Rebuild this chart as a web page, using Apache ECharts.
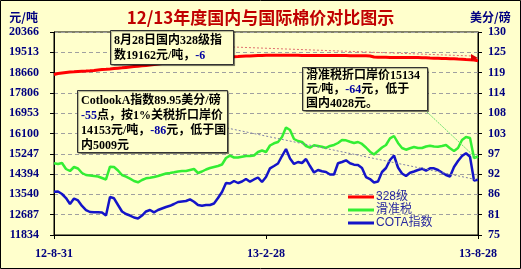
<!DOCTYPE html>
<html>
<head>
<meta charset="utf-8">
<script src="https://cdn.jsdelivr.net/npm/echarts@6/dist/echarts.min.js"></script>
<style>
html,body{margin:0;padding:0;background:#FFFFCC;}
#c{width:521px;height:269px;}
</style>
</head>
<body>
<div id="c"></div>
<script>
// ---- data ----
const title = '12/13年度国内与国际棉价对比图示';
const seriesNames = ['328级', '滑准税', 'COTA指数'];
const xTickLabels = ['12-8-31', '13-2-28', '13-8-28'];
const xTickIndex = [0, 53, 106];
const leftTickMin = 11834, leftTickMax = 20366, leftTickStep = 853.2;   // 元/吨
const rightTickMin = 75, rightTickMax = 130, rightTickStep = 5.5;        // 美分/磅

// 328级 (元/吨)
const grade328 = [18580,18622,18643,18664,18685,18693,18706,18718,18727,18739,
 18752,18769,18786,18798,18811,18828,18845,18861,18878,18895,
 18912,18929,18945,18962,18979,19000,19021,19042,19063,19084,
 19105,19126,19147,19168,19189,19210,19231,19248,19265,19282,
 19294,19303,19311,19315,19315,19328,19336,19345,19353,19357,
 19370,19378,19382,19386,19386,19390,19390,19390,19390,19386,
 19386,19386,19382,19382,19382,19382,19378,19378,19378,19378,
 19374,19374,19374,19374,19370,19370,19370,19366,19366,19357,
 19315,19307,19303,19303,19298,19298,19298,19294,19294,19290,
 19290,19290,19286,19282,19273,19265,19261,19256,19252,19244,
 19240,19231,19223,19210,19198,19185,19162];
// 滑准税折口岸价 (元/吨)
const slidingTax = [14848,14818,14860,14608,14524,14692,14629,14440,14356,14335,
 14314,14293,14230,14167,14705,14692,14545,14356,14284,14200,
 14104,14049,14146,14217,14242,14272,14314,14368,14419,14440,
 14469,14503,14524,14524,14566,14608,14440,14503,14587,14650,
 14692,14734,14797,15070,15167,15091,15091,15125,15154,15154,
 15175,15322,15385,15322,15596,15688,15743,15953,16352,16247,
 15869,15785,15743,15575,15503,15604,15575,15545,15491,15575,
 15617,15701,15827,15814,15755,15701,15743,15659,15512,15335,
 15217,15364,15512,15617,15898,15995,15701,15491,15419,15478,
 15533,15491,15491,15554,15587,15554,15545,15575,15617,15478,
 15364,15491,15827,15953,15911,15070,15134];
// COTA指数 (美分/磅)
const cota = [86.73,86.79,86.11,85.02,83.40,84.89,84.35,82.86,81.77,81.23,
 81.15,81.15,81.07,80.28,85.29,84.94,83.13,81.37,80.69,80.28,
 79.74,79.47,80.28,81.37,81.77,81.15,81.77,82.18,82.59,82.91,
 83.40,83.94,84.08,84.21,84.67,84.02,83.13,82.94,83.13,83.13,
 83.53,85.02,86.65,89.09,88.95,89.63,89.09,89.49,90.17,89.44,
 90.04,90.58,89.36,90.71,93.07,93.69,94.37,96.40,98.30,95.73,
 94.24,94.78,94.51,95.59,93.69,91.93,92.61,92.26,92.07,91.39,
 91.39,94.43,94.78,95.24,94.43,94.05,93.96,93.15,90.71,90.17,
 89.22,89.49,92.07,93.15,95.32,96.54,93.29,91.66,90.98,91.88,
 92.20,92.61,92.96,92.42,93.07,93.07,92.61,91.93,91.26,90.85,
 93.42,95.05,96.40,97.13,96.21,89.77,89.95];

const categories = grade328.map((_, i) => String(i));
const tickLabelOf = {};
xTickIndex.forEach((idx, k) => { tickLabelOf[idx] = xTickLabels[k]; });

const BG = '#FFFFCC';
const NAVY = '#000080';
const axisFont = {color: NAVY, fontWeight: 'bold', fontFamily: "'Liberation Serif', serif", fontSize: 12};
const noteFont = "'Liberation Serif', 'Noto Sans CJK SC', serif";
const blueRich = {b: {fill: '#0000A0', fontWeight: 'bold', fontSize: 12, fontFamily: noteFont}};

const chart = echarts.init(document.getElementById('c'), null, {renderer: 'canvas'});
chart.setOption({
  animation: false,
  backgroundColor: BG,
  title: {
    text: title, left: 'center', top: 4,
    textStyle: {color: '#C00000', fontSize: 17, fontWeight: 'bold', fontFamily: "'Noto Sans CJK SC', sans-serif"}
  },
  grid: {left: 54, right: 43, top: 32, bottom: 34, show: true, backgroundColor: BG, borderColor: '#000', borderWidth: 1},
  legend: {
    orient: 'vertical', left: 343, top: 186, itemGap: 1,
    icon: 'rect', itemWidth: 26, itemHeight: 3,
    textStyle: {color: '#2A2AA0', fontSize: 12, fontFamily: "'Liberation Sans', 'Noto Sans CJK SC', sans-serif", padding: [0,0,0,-3]},
    data: seriesNames
  },
  xAxis: {
    type: 'category', data: categories, boundaryGap: false,
    axisLine: {lineStyle: {color: '#000'}},
    axisTick: {show: true, length: 4, interval: (i) => tickLabelOf[i] !== undefined, lineStyle: {color: '#000'}},
    axisLabel: Object.assign({
      interval: (i) => tickLabelOf[i] !== undefined,
      formatter: (v, i) => tickLabelOf[i] || '',
      margin: 13
    }, axisFont),
    splitLine: {show: false}
  },
  yAxis: [
    {
      type: 'value', min: leftTickMin, max: leftTickMax, interval: leftTickStep,
      name: '元/吨', nameLocation: 'end', nameGap: 9,
      nameTextStyle: {color: NAVY, fontWeight: 'bold', fontSize: 12, fontFamily: "'Noto Sans CJK SC', sans-serif", align: 'right', padding: [0, 16, 0, 0]},
      axisLine: {show: true, lineStyle: {color: '#000'}},
      axisTick: {show: true, length: 4, inside: false, lineStyle: {color: '#000'}},
      axisLabel: Object.assign({formatter: (v) => String(Math.round(v)), margin: 15}, axisFont),
      splitLine: {show: true, lineStyle: {color: '#A0A0A0', type: [4, 3], width: 1}}
    },
    {
      type: 'value', min: rightTickMin, max: rightTickMax, interval: rightTickStep,
      name: '美分/磅', nameLocation: 'end', nameGap: 9,
      nameTextStyle: {color: NAVY, fontWeight: 'bold', fontSize: 12, fontFamily: "'Noto Sans CJK SC', sans-serif", align: 'left', padding: [0, 0, 0, -8]},
      axisLine: {show: true, lineStyle: {color: '#000'}},
      axisTick: {show: true, length: 4, inside: false, lineStyle: {color: '#000'}},
      axisLabel: Object.assign({formatter: (v) => String(Math.round(v)), margin: 10}, axisFont),
      splitLine: {show: false}
    }
  ],
  series: [
    {name: seriesNames[0], type: 'line', yAxisIndex: 0, data: grade328, showSymbol: false, symbol: 'none',
     lineStyle: {color: '#FF0000', width: 3}, itemStyle: {color: '#FF0000'}},
    {name: seriesNames[1], type: 'line', yAxisIndex: 0, data: slidingTax, showSymbol: false, symbol: 'none',
     lineStyle: {color: '#33EE33', width: 2.5}, itemStyle: {color: '#33EE33'}},
    {name: seriesNames[2], type: 'line', yAxisIndex: 1, data: cota, showSymbol: false, symbol: 'none',
     lineStyle: {color: '#1414C8', width: 2.5}, itemStyle: {color: '#1414C8'}}
  ],
  graphic: [
    // outer frame
    {type: 'rect', z: 0, silent: true, shape: {x: 0.5, y: 0.5, width: 520, height: 268}, style: {fill: null, stroke: '#000', lineWidth: 1}},
    // connectors
    {type: 'line', z: 90, shape: {x1: 233, y1: 47, x2: 472, y2: 56}, style: {stroke: '#E07070', lineWidth: 1, lineDash: [2, 2]}},
    {type: 'polygon', z: 90, shape: {points: [[478, 58], [471, 54], [471, 61]]}, style: {fill: '#E00000'}},
    {type: 'line', z: 90, shape: {x1: 227, y1: 128, x2: 478, y2: 180}, style: {stroke: '#8080A8', lineWidth: 1, lineDash: [2, 2]}},
    {type: 'line', z: 90, shape: {x1: 427, y1: 112, x2: 476, y2: 158}, style: {stroke: '#70E070', lineWidth: 1, lineDash: [2, 1]}},
    // note boxes
    {type: 'rect', z: 100, shape: {x: 110.5, y: 30.5, width: 123, height: 34}, style: {fill: BG, stroke: '#333', lineWidth: 1, shadowColor: 'rgba(0,0,0,0.35)', shadowOffsetX: 1, shadowOffsetY: 1, shadowBlur: 1}},
    {type: 'text', z: 101, x: 114, y: 33, style: {
      text: '8月28日国内328级指\n数19162元/吨，{b|-6}',
      font: 'bold 12px ' + noteFont, fill: '#000', lineHeight: 15, rich: blueRich
    }},
    {type: 'rect', z: 100, shape: {x: 77.5, y: 90.5, width: 150, height: 62}, style: {fill: BG, stroke: '#333', lineWidth: 1, shadowColor: 'rgba(0,0,0,0.35)', shadowOffsetX: 1, shadowOffsetY: 1, shadowBlur: 1}},
    {type: 'text', z: 101, x: 81, y: 93, style: {
      text: 'CotlookA指数89.95美分/磅\n{b|-55}点，按1%关税折口岸价\n14153元/吨，{b|-86}元，低于国\n内5009元',
      font: 'bold 12px ' + noteFont, fill: '#000', lineHeight: 15, rich: blueRich
    }},
    {type: 'rect', z: 100, shape: {x: 302.5, y: 67.5, width: 125, height: 43}, style: {fill: BG, stroke: '#333', lineWidth: 1, shadowColor: 'rgba(0,0,0,0.35)', shadowOffsetX: 1, shadowOffsetY: 1, shadowBlur: 1}},
    {type: 'text', z: 101, x: 306, y: 69, style: {
      text: '滑准税折口岸价15134\n元/吨，{b|-64}元，低于\n国内4028元。',
      font: 'bold 12px ' + noteFont, fill: '#000', lineHeight: 14, rich: blueRich
    }}
  ]
});
</script>
</body>
</html>
